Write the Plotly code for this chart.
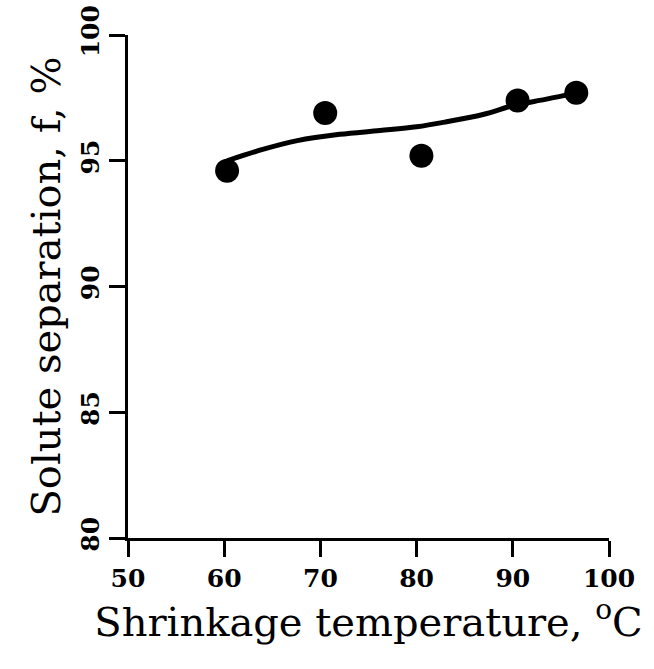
import plotly.graph_objects as go

# Data points
temp_pts = [60.3, 70.5, 80.5, 90.5, 96.6]
sep_pts = [94.6, 96.9, 95.2, 97.4, 97.7]

# Smooth fitted curve
temp_curve = [60.3, 64.0, 67.6, 72.0, 76.2, 80.0, 83.1, 87.0, 90.1, 93.5, 96.6]
sep_curve = [95.0, 95.45, 95.8, 96.05, 96.2, 96.35, 96.55, 96.85, 97.2, 97.45, 97.7]

x_ticks = [50, 60, 70, 80, 90, 100]
y_ticks = [80, 85, 90, 95, 100]

fig = go.Figure()
fig.add_trace(go.Scatter(x=temp_curve, y=sep_curve, mode="lines",
                         line=dict(color="black", width=5, shape="spline"),
                         showlegend=False, hoverinfo="skip"))
fig.add_trace(go.Scatter(x=temp_pts, y=sep_pts, mode="markers",
                         marker=dict(color="black", size=24),
                         showlegend=False))

fig.update_layout(
    width=654, height=669,
    margin=dict(l=128, r=45, t=35, b=131),
    paper_bgcolor="white", plot_bgcolor="white",
    font=dict(family="DejaVu Serif", color="black"),
)
fig.update_xaxes(
    range=[50, 100], tickvals=x_ticks, ticktext=[str(v) for v in x_ticks],
    automargin=False,
    showgrid=False, zeroline=False, showline=True, linecolor="black", linewidth=2.5,
    ticks="outside", ticklen=16, tickwidth=2.5, tickcolor="black",
    tickfont=dict(size=25, family="DejaVu Serif", weight="bold"),
    title=dict(text="Shrinkage temperature, <sup>o</sup>C", font=dict(size=40), standoff=2),
)
fig.update_yaxes(
    range=[80, 100], tickvals=y_ticks, ticktext=[str(v) for v in y_ticks],
    automargin=False,
    showgrid=False, zeroline=False, showline=True, linecolor="black", linewidth=2.5,
    ticks="outside", ticklen=16, tickwidth=2.5, tickcolor="black", tickangle=-90,
    tickfont=dict(size=25, family="DejaVu Serif", weight="bold"),
    title=dict(text="Solute separation, f, %", font=dict(size=40), standoff=4),
)
fig.write_html("out.html")
